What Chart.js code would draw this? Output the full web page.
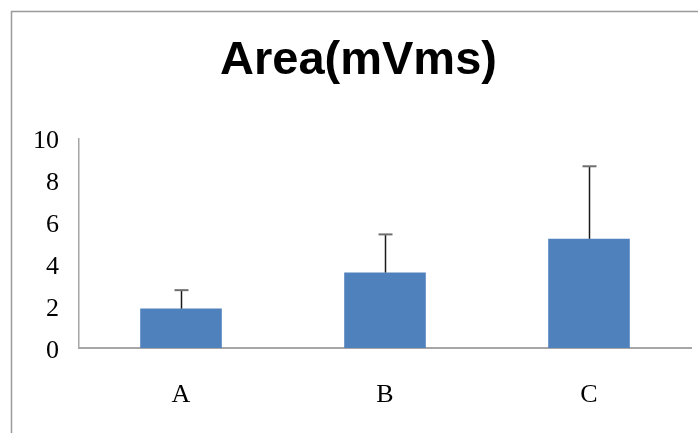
<!DOCTYPE html>
<html>
<head>
<meta charset="utf-8">
<style>
  html, body { margin: 0; padding: 0; background: #fff; }
  #wrap { width: 698px; height: 433px; position: relative; }
</style>
<script src="https://cdn.jsdelivr.net/npm/chart.js@4/dist/chart.umd.min.js"></script>
</head>
<body>
<div id="wrap"><canvas id="c" width="698" height="433"></canvas></div>
<script>
// Group labels, mean values and their positive error (SD)
const categories = ['A', 'B', 'C'];
const means = [1.88, 3.6, 5.21];
const errors = [0.88, 1.82, 3.46];
const yTicks = [0, 2, 4, 6, 8, 10];

const serif = '"Liberation Serif", "DejaVu Serif", serif';

// Outer frame of the chart object
const framePlugin = {
  id: 'frame',
  beforeDraw(chart) {
    const ctx = chart.ctx;
    ctx.save();
    ctx.strokeStyle = '#9a9a9a';
    ctx.lineWidth = 1.5;
    ctx.beginPath();
    ctx.moveTo(11.5, chart.height + 2);
    ctx.lineTo(11.5, 11.5);
    ctx.lineTo(chart.width + 2, 11.5);
    ctx.stroke();
    ctx.restore();
  }
};

// Upward error bars drawn from mean to mean + error
const errorBarPlugin = {
  id: 'errorBars',
  afterDatasetsDraw(chart) {
    const ctx = chart.ctx;
    const meta = chart.getDatasetMeta(0);
    const y = chart.scales.y;
    ctx.save();
    meta.data.forEach((bar, i) => {
      const x = Math.round(bar.x) + 0.5;
      const yTop = y.getPixelForValue(means[i] + errors[i]);
      const yBase = y.getPixelForValue(means[i]);
      ctx.strokeStyle = '#1a1a1a';
      ctx.lineWidth = 1.5;
      ctx.beginPath();
      ctx.moveTo(x, yBase);
      ctx.lineTo(x, yTop);
      ctx.stroke();
      ctx.strokeStyle = '#6f6f6f';
      ctx.lineWidth = 2;
      ctx.beginPath();
      ctx.moveTo(x - 7, yTop);
      ctx.lineTo(x + 7, yTop);
      ctx.stroke();
    });
    ctx.restore();
  }
};

new Chart(document.getElementById('c'), {
  type: 'bar',
  data: {
    labels: categories,
    datasets: [{
      data: means,
      backgroundColor: '#4F81BD',
      borderWidth: 0,
      categoryPercentage: 1.0,
      barPercentage: 0.4
    }]
  },
  options: {
    responsive: false,
    animation: false,
    devicePixelRatio: 1,
    layout: { padding: { left: 26, right: 7, top: 0, bottom: 0 } },
    plugins: {
      legend: { display: false },
      tooltip: { enabled: false },
      title: {
        display: true,
        text: 'Area(mVms)',
        color: '#000',
        font: { family: '"Liberation Sans", Arial, sans-serif', size: 47, weight: 'bold', lineHeight: 1.2 },
        padding: { top: 33, bottom: 49 }
      }
    },
    scales: {
      x: {
        grid: { display: false, drawTicks: false },
        border: { display: true, color: '#a6a6a6', width: 2 },
        ticks: { color: '#000', font: { family: serif, size: 26 }, padding: 32 },
        afterFit(scale) { scale.height = 85; }
      },
      y: {
        min: 0,
        max: 10,
        afterBuildTicks(scale) { scale.ticks = yTicks.map(v => ({ value: v })); },
        grid: { display: false, drawTicks: false },
        border: { display: true, color: '#a6a6a6', width: 1.5 },
        ticks: { color: '#000', font: { family: serif, size: 26 }, padding: 20, labelOffset: 3 },
        afterFit(scale) { scale.width = 53; }
      }
    }
  },
  plugins: [framePlugin, errorBarPlugin]
});
</script>
</body>
</html>
